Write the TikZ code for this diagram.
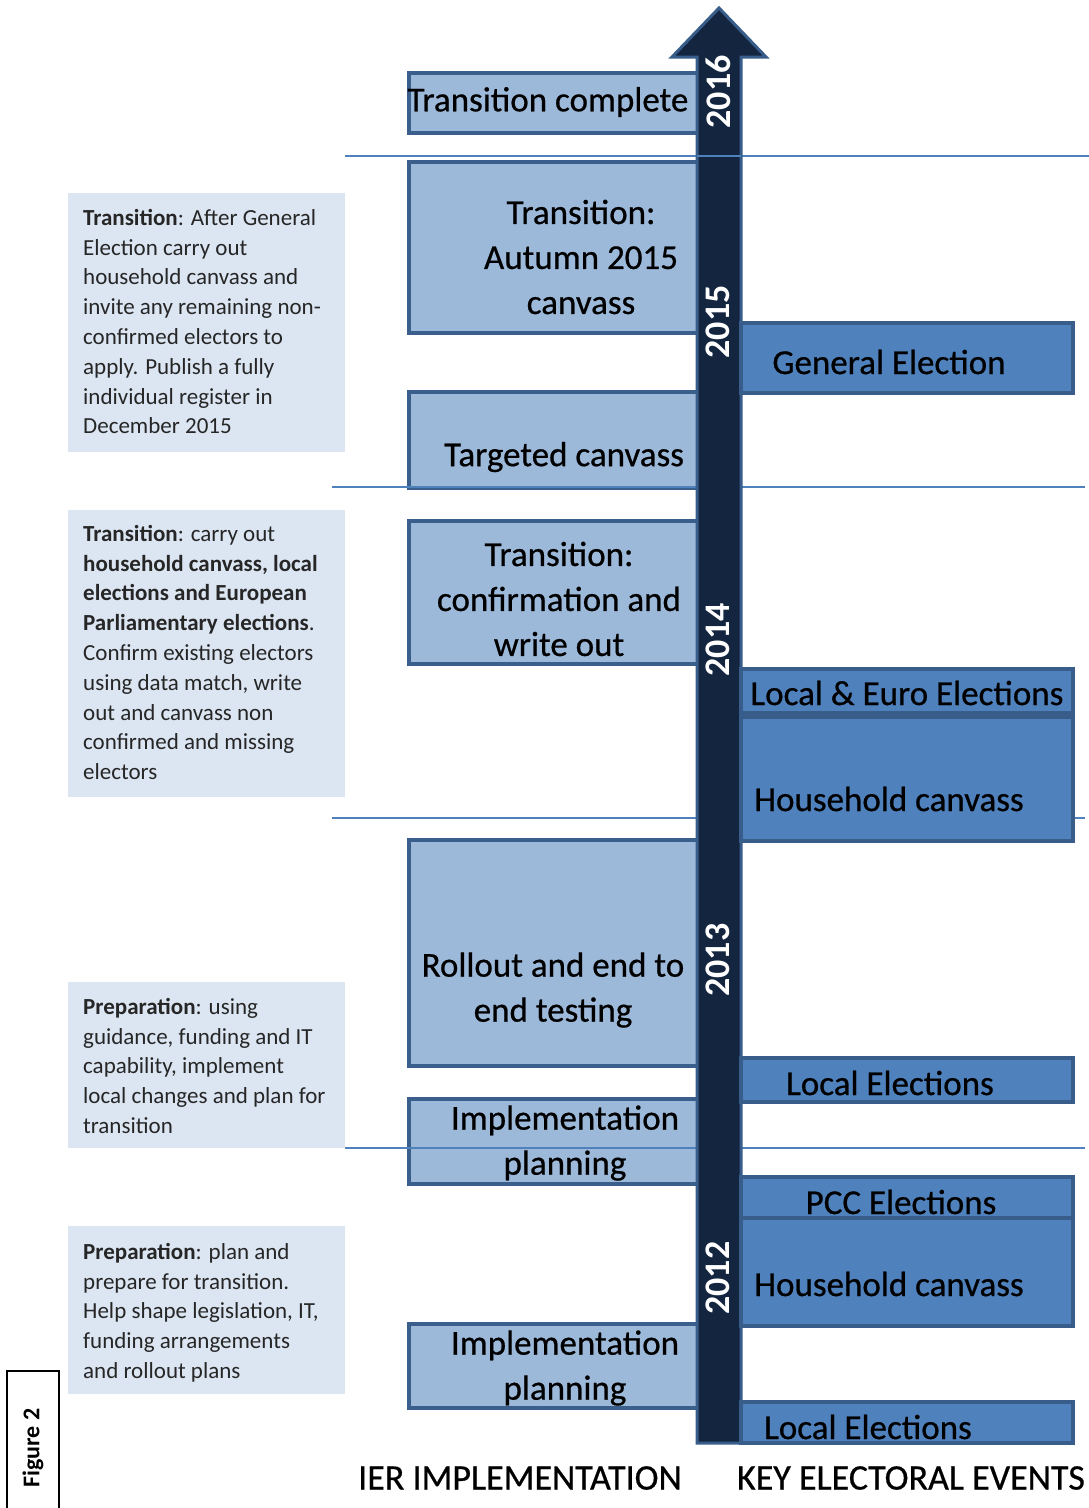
\documentclass[tikz,border=0pt]{standalone}
\usepackage{fontspec}
\setmainfont{Carlito}
\newfontface\heavyface{Carlito}[FakeBold=0.6]
\definecolor{ierfill}{HTML}{9DB9DA}
\definecolor{ierline}{HTML}{3B5F8C}
\definecolor{evfill}{HTML}{4F81BD}
\definecolor{evline}{HTML}{385D8A}
\definecolor{navy}{HTML}{13253F}
\definecolor{notefill}{HTML}{DCE6F2}
\definecolor{rulecol}{HTML}{4F81BD}
\tikzset{
  ierbox/.style={fill=ierfill,draw=ierline,line width=4pt},
  evbox/.style={fill=evfill,draw=evline,line width=4pt},
  boxtext/.style={align=center,inner sep=0pt,font=\fontsize{35}{45}\heavyface},
  notetext/.style={align=left,anchor=north west,inner sep=0pt,text=black!85,
    font=\fontsize{23}{29.8}\selectfont},
  yearlbl/.style={rotate=90,text=white,inner sep=0pt,font=\fontsize{36}{40}\selectfont\bfseries},
  yearrule/.style={draw=rulecol,line width=1.5pt}
}
\begin{document}
\begin{tikzpicture}[x=1pt,y=-1pt]
\useasboundingbox (0,0) rectangle (1089,1508);

% notes on the left
\fill[notefill] (68,193) rectangle (345,452);
\node[notetext] (note15) at (83,209) {\textbf{Transition}: After General\\Election carry out\\household canvass and\\invite any remaining non-\\confirmed electors to\\apply. Publish a fully\\individual register in\\December 2015};
\fill[notefill] (68,510) rectangle (345,797);
\node[notetext] (note14) at (83,525) {\textbf{Transition}: carry out\\\textbf{household canvass, local}\\\textbf{elections and European}\\\textbf{Parliamentary elections}.\\Confirm existing electors\\using data match, write\\out and canvass non\\confirmed and missing\\electors};
\fill[notefill] (68,982) rectangle (345,1148);
\node[notetext] (note13) at (83,998) {\textbf{Preparation}: using\\guidance, funding and IT\\capability, implement\\local changes and plan for\\transition};
\fill[notefill] (68,1226) rectangle (345,1394);
\node[notetext] (note12) at (83,1243) {\textbf{Preparation}: plan and\\prepare for transition.\\Help shape legislation, IT,\\funding arrangements\\and rollout plans};

% IER implementation boxes
\draw[ierbox] (409,73) rectangle (699,133);
\draw[ierbox] (409,162) rectangle (699,333);
\draw[ierbox] (409,392) rectangle (699,488);
\draw[ierbox] (409,521) rectangle (699,664);
\draw[ierbox] (409,840) rectangle (699,1066);
\draw[ierbox] (409,1099) rectangle (699,1184);
\draw[ierbox] (409,1324) rectangle (699,1408);

% year boundaries
\draw[yearrule] (345,156) -- (1089,156);
\draw[yearrule] (332,487) -- (1085,487);
\draw[yearrule] (332,818) -- (1085,818);
\draw[yearrule] (345,1148) -- (1085,1148);

% time arrow
\draw[fill=navy,draw=evline,line width=3pt,line join=miter]
  (697,1443) -- (697,57) -- (672,57) -- (719,8) -- (766,57) -- (741,57) -- (741,1443) -- cycle;
\draw[yearrule] (697,156) -- (741,156);

% key electoral events
\draw[evbox] (741,323) rectangle (1073,393);
\draw[evbox] (741,669) rectangle (1073,713);
\draw[evbox] (741,717) rectangle (1073,841);
\draw[evbox] (741,1058) rectangle (1073,1102);
\draw[evbox] (741,1177) rectangle (1073,1218);
\draw[evbox] (741,1218) rectangle (1073,1326);
\draw[evbox] (741,1402) rectangle (1073,1443);

\node[boxtext] (done) at (548,102) {Transition complete};
\node[boxtext] (autumn) at (581,257) {Transition:\\Autumn 2015\\canvass};
\node[boxtext] (target) at (564,457) {Targeted canvass};
\node[boxtext] (confirm) at (559,599) {Transition:\\confirmation and\\write out};
\node[boxtext] (rollout) at (553,990) {Rollout and end to\\end testing};
\node[boxtext] (plan13) at (565,1143) {Implementation\\planning};
\node[boxtext] (plan12) at (565,1368) {Implementation\\planning};

\node[boxtext] (general) at (889,362) {General Election};
\node[boxtext] (euro) at (907,693) {Local \& Euro Elections};
\node[boxtext] (house14) at (889,799) {Household canvass};
\node[boxtext] (local13) at (890,1083) {Local Elections};
\node[boxtext] (pcc) at (901,1202) {PCC Elections};
\node[boxtext] (house12) at (889,1284) {Household canvass};
\node[boxtext] (local12) at (868,1427) {Local Elections};

\node[yearlbl] (y16) at (718,92) {2016};
\node[yearlbl] (y15) at (718,322) {2015};
\node[yearlbl] (y14) at (718,640) {2014};
\node[yearlbl] (y13) at (718,960) {2013};
\node[yearlbl] (y12) at (718,1278) {2012};

% column titles
\node[inner sep=0pt,font=\fontsize{36}{40}\heavyface] (iertitle) at (520,1478) {IER IMPLEMENTATION};
\node[inner sep=0pt,font=\fontsize{36}{40}\heavyface] (evtitle) at (911,1478) {KEY ELECTORAL EVENTS};

\draw[line width=1.2pt] (7,1508) -- (7,1371) -- (59,1371) -- (59,1508);
\node[rotate=90,inner sep=0pt,font=\fontsize{24}{28}\selectfont\bfseries] (fig) at (33,1448) {Figure 2};
\end{tikzpicture}
\end{document}
